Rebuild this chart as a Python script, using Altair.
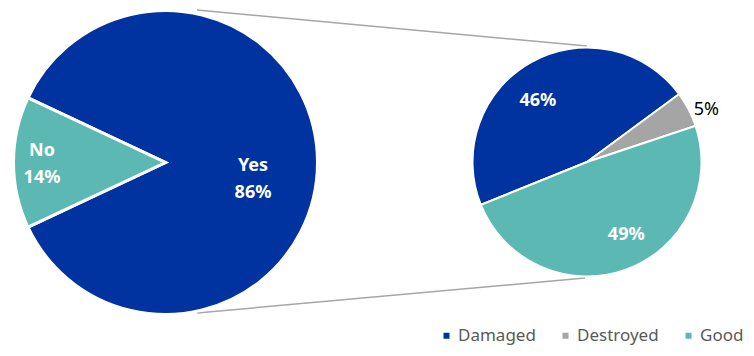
import math
import altair as alt
import pandas as pd

# ---- data ----
left_cats = ["Yes", "No"]
left_vals = [86, 14]
right_cats = ["Damaged", "Destroyed", "Good"]
right_vals = [46, 5, 49]

BLUE = "#0033a0"
TEAL = "#5cb8b2"
GRAY = "#a5a5a5"
FONT = "Noto Sans"

left_df = pd.DataFrame({"cat": left_cats, "v": left_vals, "idx": list(range(len(left_cats)))})
left_df["lab"] = left_df["cat"] + "\n" + left_df["v"].astype(str) + "%"
right_df = pd.DataFrame({"cat": right_cats, "v": right_vals, "idx": list(range(len(right_cats)))})
right_df["lab"] = right_df["v"].astype(str) + "%"

# layout (chart coordinates)
L_CX, L_CY, L_R = 157.5, 154.5, 152
R_CX, R_CY, R_R = 579, 154, 114.5


def theta(start_deg):
    s = math.radians(start_deg)
    return alt.Theta("v:Q", stack=True, scale=alt.Scale(range=[s, s + 2 * math.pi]))


def label(base, cat, radius, dx=0, dy=0, color="white", weight="bold"):
    return base.mark_text(
        radius=radius, dx=dx, dy=dy, font=FONT, fontSize=18, fontWeight=weight,
        color=color, lineBreak="\n", lineHeight=27, align="center", baseline="middle",
    ).encode(text=alt.condition(alt.datum.cat == cat, alt.Text("lab:N"), alt.value("")))


left_base = alt.Chart(left_df).encode(
    theta=theta(295.2), order=alt.Order("idx:Q"),
    x=alt.value(L_CX), y=alt.value(L_CY),
)
left_arc = left_base.mark_arc(radius=L_R, stroke="white", strokeWidth=3).encode(
    color=alt.Color("cat:N", scale=alt.Scale(domain=left_cats, range=[BLUE, TEAL]), legend=None)
)
left = alt.layer(
    left_arc,
    label(left_base, "Yes", 87.5, dy=3.5),
    label(left_base, "No", 123.5, dy=-11.5),
)

right_base = alt.Chart(right_df).encode(
    theta=theta(248), order=alt.Order("idx:Q"),
    x=alt.value(R_CX), y=alt.value(R_CY),
)
right_arc = right_base.mark_arc(radius=R_R, stroke="white", strokeWidth=2).encode(
    color=alt.Color(
        "cat:N",
        scale=alt.Scale(domain=right_cats, range=[BLUE, GRAY, TEAL]),
        legend=alt.Legend(
            orient="none", legendX=430, legendY=319, direction="horizontal", title=None,
            padding=0, symbolOffset=0,
            symbolType="square", symbolSize=36, symbolStrokeWidth=0,
            labelFont=FONT, labelFontSize=17, labelColor="#595959",
            labelOffset=3, columnPadding=21,
        ),
    )
)
right = alt.layer(
    right_arc,
    label(right_base, "Damaged", 72, dx=-14, dy=2),
    label(right_base, "Destroyed", 131, dx=3, dy=8, color="black", weight="normal"),
    label(right_base, "Good", 76, dx=13, dy=2),
)

one = alt.Chart(pd.DataFrame({"k": [0]}))
top_line = one.mark_rule(color="#a6a6a6", strokeWidth=1.5).encode(
    x=alt.value(189), y=alt.value(2), x2=alt.value(579), y2=alt.value(38)
)
bot_line = one.mark_rule(color="#a6a6a6", strokeWidth=1.5).encode(
    x=alt.value(189), y=alt.value(305), x2=alt.value(577), y2=alt.value(270)
)

chart = (
    alt.layer(top_line, bot_line, left, right)
    .resolve_scale(theta="independent", color="independent")
    .properties(width=738, height=340, autosize=alt.AutoSizeParams(type="none"), padding=0)
    .configure_view(stroke=None)
)

chart.save("out.html", embed_options={"renderer": "svg", "actions": False})
